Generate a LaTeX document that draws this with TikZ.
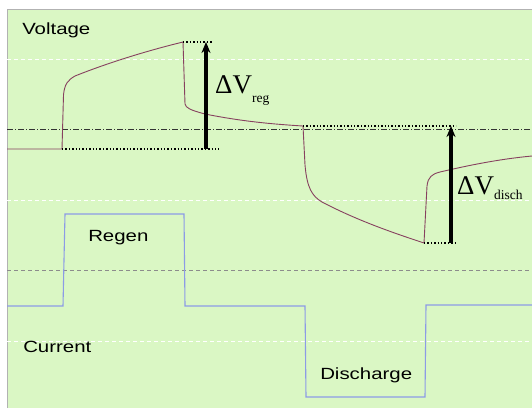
\documentclass[tikz,border=0pt]{standalone}
\usepackage{fontspec}
\setmainfont{Liberation Serif}
\setsansfont{Liberation Sans}
\usepackage{tikz}
\usetikzlibrary{arrows.meta, positioning, calc}

\definecolor{bggreen}{RGB}{218,247,196}
\definecolor{voltline}{RGB}{135,65,95}
\definecolor{currline}{RGB}{140,155,230}

\tikzset{
	gridwhite/.style={white, line width=0.8pt, dash pattern=on 4pt off 3pt},
	gridgray/.style={black!45, line width=0.6pt, dash pattern=on 4pt off 3pt},
	gridblack/.style={black!80, line width=0.6pt, dash pattern=on 6pt off 2pt on 1pt off 2pt},
	levelline/.style={black, line width=1.4pt, dotted},
	deltaarrow/.style={black, line width=3.2pt, -{Stealth[length=11pt, width=9pt]}},
	signal/.style={font=\sffamily\fontsize{16.2}{19}\selectfont, xscale=1.26, inner sep=0pt},
	deltalabel/.style={inner sep=0pt}
}

\begin{document}
\begin{tikzpicture}[x=1pt, y=-1pt]
				\useasboundingbox (0,0) rectangle (532,408);
				\clip (0,0) rectangle (532,408);
				\fill [bggreen] (7,9) rectangle (532,408);
				\draw [gray!60, line width=0.8pt] (7,408) -- (7,9) -- (532,9);
				
				% grid
				\draw [gridwhite] (7,59) -- (532,59);
				\draw [gridblack] (7,129) -- (532,129);
				\draw [gridwhite] (7,200) -- (532,200);
				\draw [gridgray] (7,270) -- (532,270);
				\draw [gridwhite] (7,341) -- (532,341);
				
				% key points of the voltage trace
				\coordinate (vstart) at (62,149);
				\coordinate (regtop) at (183,42);
				\coordinate (midlevel) at (303,126);
				\coordinate (dischlow) at (424,243);
				
				% voltage
				\draw [voltline, line width=0.9pt] (7,149) -- (vstart) -- (63.5,95) .. controls (64.5,84) and (68,80) .. (75,76)
					.. controls (110,62) and (150,50) .. (regtop) -- (185,104) .. controls (186,108) and (190,110) .. (205,114)
					.. controls (240,121) and (270,124) .. (midlevel) -- (305,165) .. controls (307,188) and (312,196) .. (322,202)
					.. controls (360,222) and (400,235) .. (dischlow) -- (427,186) .. controls (428,177) and (432,174) .. (440,172)
					.. controls (470,165) and (500,159) .. (532,156);
				
				% current
				\draw [currline, line width=1.1pt] (7,306) -- (63,306) -- (65,214) -- (184,214) -- (185,306) -- (305,306)
					-- (306,397) -- (425,397) -- (426,305) -- (532,305);
				
				% regen step
				\coordinate (regend) at (219,149);
				\coordinate (regtopend) at (213,42);
				\coordinate (regarrowlow) at (206,149);
				\coordinate (regarrowtop) at (206,42);
				\draw [levelline] (vstart) -- (regend);
				\draw [levelline] (regtop) -- (regtopend);
				\draw [deltaarrow] (regarrowlow) -- (regarrowtop);
				
				% discharge step
				\coordinate (midend) at (456,126);
				\coordinate (dischend) at (456,243);
				\coordinate (discharrowlow) at (451,243);
				\coordinate (discharrowtop) at (451,126);
				\draw [levelline] (midlevel) -- (midend);
				\draw [levelline] (dischlow) -- (dischend);
				\draw [deltaarrow] (discharrowlow) -- (discharrowtop);
				
				\node [signal, anchor=base west] (voltage) at (22,34) {Voltage};
				\node [signal, anchor=base west] (regen) at (88,241) {Regen};
				\node [signal, anchor=base west] (current) at (23,352) {Current};
				\node [signal, anchor=base west] (discharge) at (320,379) {Discharge};
				
				\node [deltalabel, anchor=base west] (dvreg) at (215,93) {\fontsize{27}{30}\selectfont ΔV\raisebox{-9pt}{\fontsize{13.5}{15}\selectfont reg}};
				\node [deltalabel, anchor=base west] (dvdisch) at (457,194) {\fontsize{27}{30}\selectfont ΔV\raisebox{-5pt}{\fontsize{13.5}{15}\selectfont disch}};
\end{tikzpicture}
\end{document}
